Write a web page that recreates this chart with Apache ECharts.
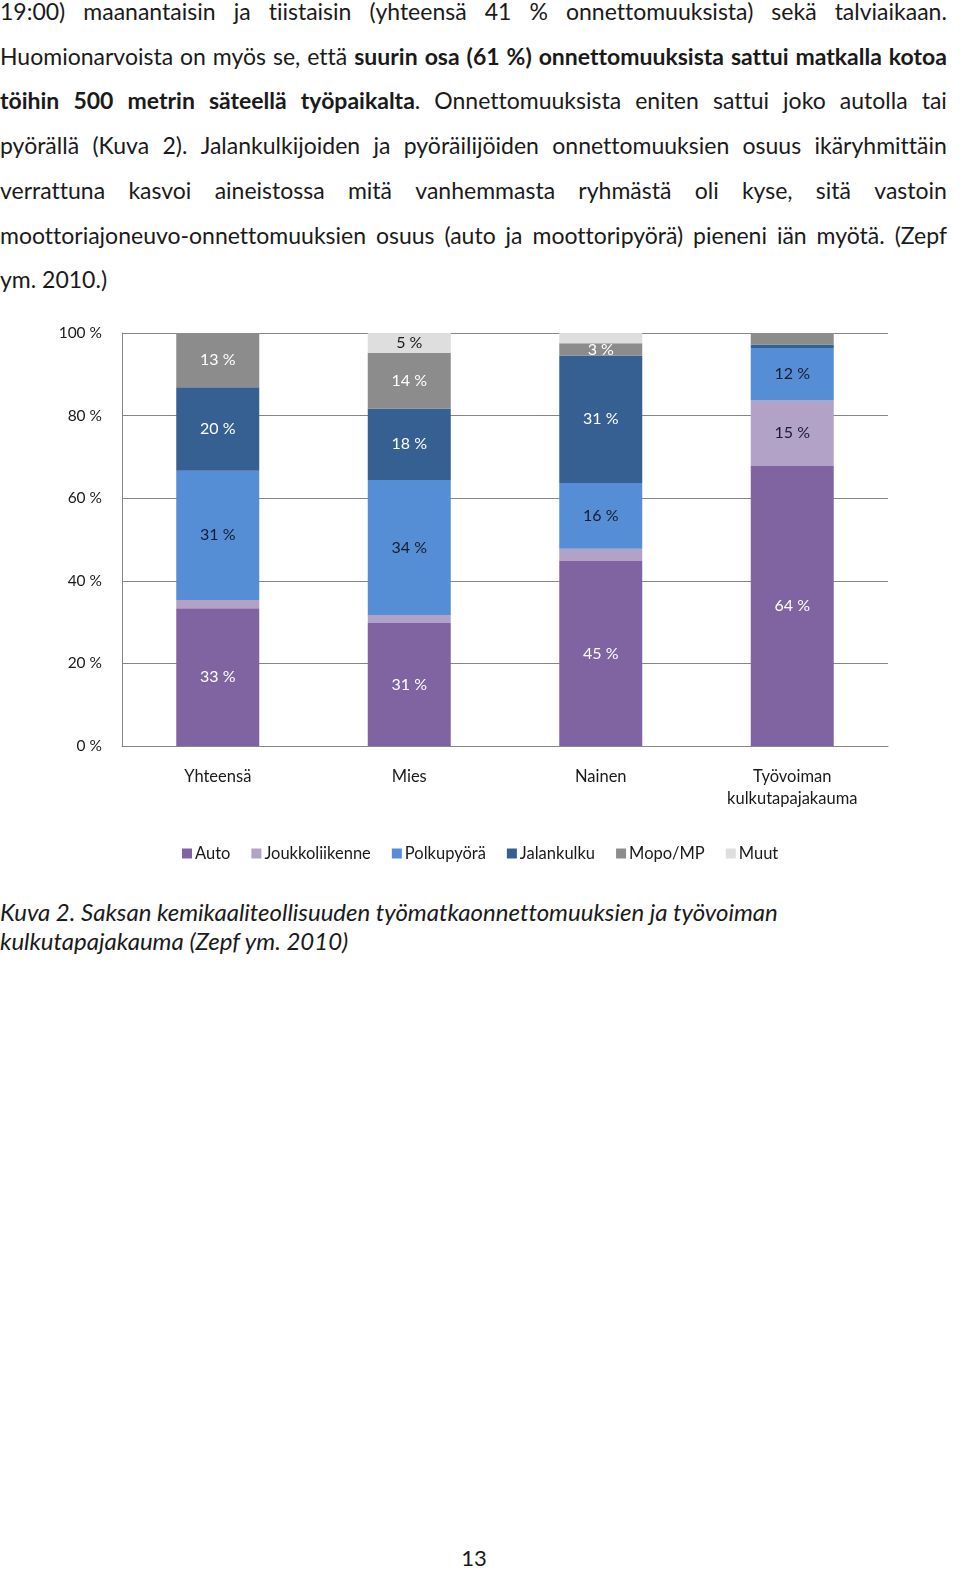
<!DOCTYPE html>
<html>
<head>
<meta charset="utf-8">
<script src="https://cdn.jsdelivr.net/npm/echarts@6/dist/echarts.min.js"></script>
<style>
  html, body { margin: 0; padding: 0; background: #fff; }
  body { width: 960px; height: 1587px; position: relative; overflow: hidden; font-family: Lato, "Noto Sans", sans-serif; color: #1a1a1a; font-variant-ligatures: none; font-feature-settings: "liga" 0, "clig" 0; }
  #text { position: absolute; left: 0; top: -11px; width: 947px; font-size: 23px; line-height: 44.7px; }
  #text .l { white-space: nowrap; display: flex; justify-content: space-between; }
  #text .last { text-align: left; }
  #chart { position: absolute; left: 0; top: 310px; width: 960px; height: 570px; }
  #caption { position: absolute; left: 0; top: 897px; font-style: italic; font-size: 24px; line-height: 29px; }
  #page { position: absolute; left: 0; width: 948px; top: 1544px; text-align: center; font-size: 22px; }
</style>
</head>
<body>
<div id="text"></div>
<div id="chart"></div>
<div id="caption">Kuva 2. Saksan kemikaaliteollisuuden työmatkaonnettomuuksien ja työvoiman<br>kulkutapajakauma (Zepf ym. 2010)</div>
<div id="page">13</div>
<script>
// ---- Text lines of the paragraph ----
const textLines = [
  "19:00) maanantaisin ja tiistaisin (yhteensä 41 % onnettomuuksista) sekä talviaikaan.",
  "Huomionarvoista on myös se, että <b>suurin osa (61 %) onnettomuuksista sattui matkalla kotoa</b>",
  "<b>töihin 500 metrin säteellä työpaikalta</b>. Onnettomuuksista eniten sattui joko autolla tai",
  "pyörällä (Kuva 2). Jalankulkijoiden ja pyöräilijöiden onnettomuuksien osuus ikäryhmittäin",
  "verrattuna kasvoi aineistossa mitä vanhemmasta ryhmästä oli kyse, sitä vastoin",
  "moottoriajoneuvo-onnettomuuksien osuus (auto ja moottoripyörä) pieneni iän myötä. (Zepf",
  "ym. 2010.)"
];

// ---- Chart data ----
const categories = ['Yhteensä', 'Mies', 'Nainen', 'Työvoiman\nkulkutapajakauma'];
const seriesNames = ['Auto', 'Joukkoliikenne', 'Polkupyörä', 'Jalankulku', 'Mopo/MP', 'Muut'];
const auto = [33, 31, 45, 64];
const joukkoliikenne = [2, 2, 3, 15];
const polkupyora = [31, 34, 16, 12];
const jalankulku = [20, 18, 31, 0.8];
const mopo = [13, 14, 3, 2.6];
const muut = [0, 5, 2.5, 0];
const yTicks = [0, 20, 40, 60, 80, 100];

// which segment labels are hidden (series index -> category indices)
const hiddenLabels = { 1: [0, 1, 2], 3: [3], 4: [3], 5: [0, 2, 3] };

// build justified text lines
const tdiv = document.getElementById('text');
textLines.forEach((ln, i) => {
  const d = document.createElement('div');
  if (i === textLines.length - 1) { d.className = 'last'; d.innerHTML = ln; }
  else {
    d.className = 'l';
    const tokens = ln.replace(/<b>/g, '\u0001').replace(/<\/b>/g, '\u0002').split(' ');
    let bold = false;
    tokens.forEach(t => {
      let html = bold ? '<b>' : '';
      for (const ch of t) {
        if (ch === '\u0001') { bold = true; html += '<b>'; }
        else if (ch === '\u0002') { bold = false; html += '</b>'; }
        else html += ch;
      }
      if (bold) html += '</b>';
      const sp = document.createElement('span');
      sp.innerHTML = html;
      d.appendChild(sp);
    });
  }
  tdiv.appendChild(d);
});

const rawSeries = [auto, joukkoliikenne, polkupyora, jalankulku, mopo, muut];
const colors = ['#8064a2', '#b3a2c7', '#558ed5', '#366092', '#8c8c8c', '#dedede'];
const labelColors = ['#ffffff', '#1a1a33', '#141c33', '#ffffff', '#ffffff', '#1a1a1a'];
const totals = categories.map((c, i) => rawSeries.reduce((s, arr) => s + arr[i], 0));

const chart = echarts.init(document.getElementById('chart'));
const FONT = 'Lato';
chart.setOption({
  animation: false,
  textStyle: { fontFamily: FONT },
  color: colors,
  grid: { left: 122, right: 72, top: 23, bottom: 134 },
  legend: {
    left: 177, top: 530,
    icon: 'rect', itemWidth: 10, itemHeight: 10, itemGap: 21,
    textStyle: { fontFamily: FONT, fontSize: 16.5, color: '#1a1a1a', padding: [0, 0, 0, -2] },
    data: seriesNames
  },
  xAxis: {
    type: 'category', data: categories,
    axisLine: { lineStyle: { color: '#868686' } },
    axisTick: { show: false },
    axisLabel: { fontFamily: FONT, fontSize: 16.5, color: '#1a1a1a', margin: 20, lineHeight: 22, interval: 0 }
  },
  yAxis: {
    type: 'value', min: 0, max: 100, interval: 20,
    axisLine: { show: true, lineStyle: { color: '#868686' } },
    axisTick: { show: false },
    splitLine: { lineStyle: { color: '#868686' } },
    axisLabel: { fontFamily: FONT, fontSize: 15.5, color: '#1a1a1a', margin: 20, formatter: v => yTicks.includes(v) ? v + ' %' : '' }
  },
  series: rawSeries.map((arr, si) => ({
    name: seriesNames[si], type: 'bar', stack: 'total', barWidth: 83,
    itemStyle: { color: colors[si] },
    label: {
      show: true, position: 'inside', fontFamily: FONT, fontSize: 16, color: labelColors[si],
      formatter: p => Math.round(p.data.raw) + ' %'
    },
    data: arr.map((v, ci) => {
      const item = { value: v / totals[ci] * 100, raw: v };
      if ((hiddenLabels[si] || []).includes(ci)) item.label = { show: false };
      return item;
    })
  }))
});
</script>
</body>
</html>
